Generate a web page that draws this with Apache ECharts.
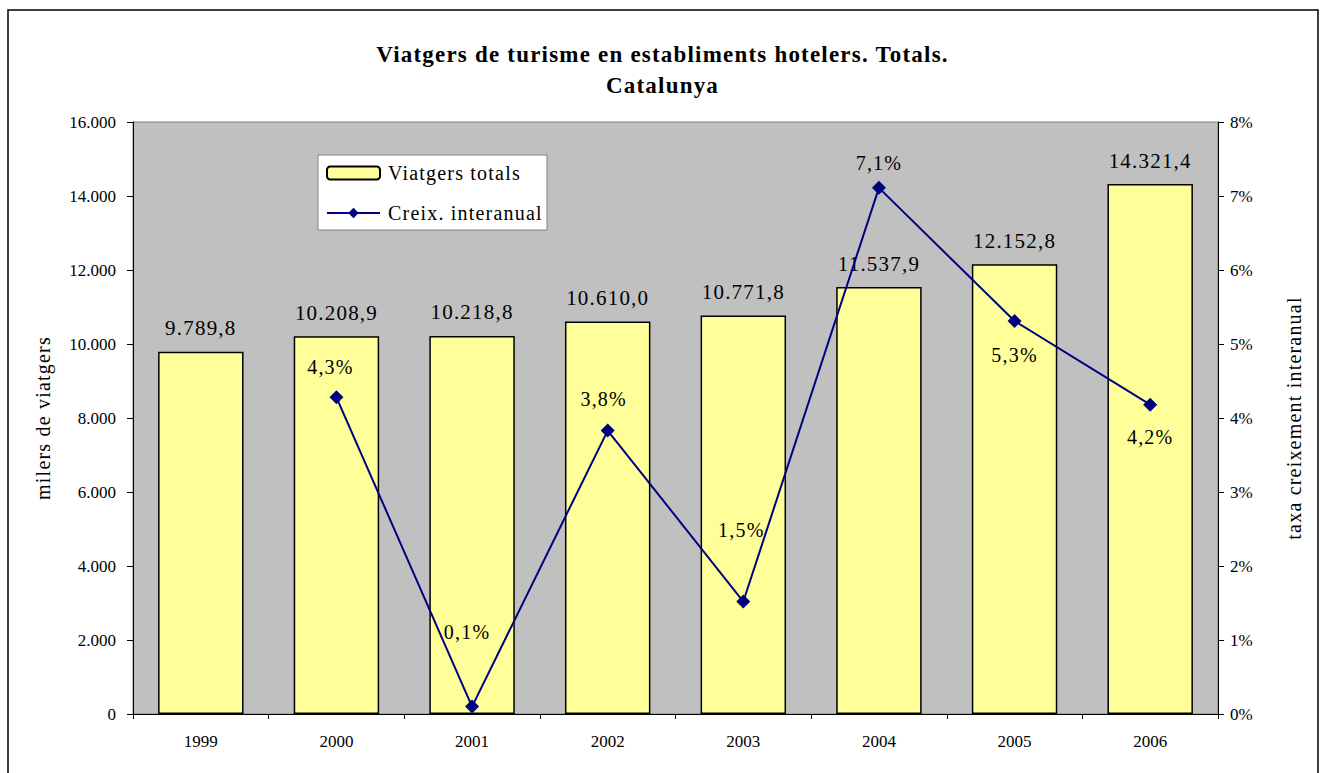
<!DOCTYPE html>
<html>
<head>
<meta charset="utf-8">
<script src="https://cdn.jsdelivr.net/npm/echarts@6/dist/echarts.min.js"></script>
<style>
  html, body { margin: 0; padding: 0; background: #fff; }
  #chart { width: 1325px; height: 773px; }
  /* el text de l'original va espaiat, menys els números dels eixos */
  #chart svg text {
    letter-spacing: 1.2px;
    font-family: "Liberation Serif", "Times New Roman", serif !important;
  }
  #chart svg text[style*="17px"] { letter-spacing: 0; }
</style>
</head>
<body>
<div id="chart"></div>
<script>
// dades llegides del gràfic
var years = ['1999', '2000', '2001', '2002', '2003', '2004', '2005', '2006'];
var viatgers = [9789.8, 10208.9, 10218.8, 10610.0, 10771.8, 11537.9, 12152.8, 14321.4];
var creixement = [null, 4.28, 0.1, 3.83, 1.52, 7.11, 5.31, 4.18];
var leftTicks = [0, 2000, 4000, 6000, 8000, 10000, 12000, 14000, 16000];
var rightTicks = [0, 1, 2, 3, 4, 5, 6, 7, 8];

var FONT = 'Liberation Serif, serif';

// 9789.8 -> "9.789,8"
function fmt(v, dec) {
  var s = v.toFixed(dec);
  var parts = s.split('.');
  var ent = parts[0].replace(/\B(?=(\d{3})+(?!\d))/g, '.');
  return dec > 0 ? ent + ',' + parts[1] : ent;
}

// on va cada etiqueta de la línia (com a l'original)
var lineLabelPlace = [
  null,
  { position: 'top', distance: 13, offset: [-6, 0] },
  { position: 'top', distance: 58, offset: [-5, 0] },
  { position: 'top', distance: 15, offset: [-4, 0] },
  { position: 'top', distance: 55, offset: [-2, 0] },
  { position: 'top', distance: 8, offset: [0, 0] },
  { position: 'bottom', distance: 17, offset: [0, 0] },
  { position: 'bottom', distance: 15, offset: [0, 0] }
];

var lineData = creixement.map(function (v, i) {
  if (v === null) return null;
  var p = lineLabelPlace[i];
  return {
    value: v,
    label: { position: p.position, distance: p.distance, offset: p.offset }
  };
});

var chart = echarts.init(document.getElementById('chart'), null, { renderer: 'svg' });

chart.setOption({
  animation: false,
  textStyle: { fontFamily: FONT },
  graphic: [{
    type: 'rect',
    shape: { x: 8, y: 10, width: 1310, height: 800 },
    style: { fill: 'none', stroke: '#000', lineWidth: 1.5 },
    z: -1
  }, {
    // caixa de la llegenda
    type: 'rect',
    shape: { x: 318, y: 155, width: 229, height: 75 },
    style: { fill: '#fff', stroke: '#808080', lineWidth: 1 },
    z: 3
  }],
  title: {
    text: 'Viatgers de turisme en establiments hotelers. Totals.\nCatalunya',
    left: 'center',
    top: 34,
    textStyle: {
      fontFamily: FONT,
      fontSize: 23,
      fontWeight: 'bold',
      color: '#000',
      lineHeight: 31
    }
  },
  legend: {
    orient: 'vertical',
    left: 326,
    top: 163,
    padding: 0,
    itemGap: 20,
    itemWidth: 53,
    itemHeight: 13,
    selectedMode: false,
    z: 5,
    textStyle: { fontFamily: FONT, fontSize: 20, color: '#000', padding: [0, 0, 0, 3] },
    data: ['Viatgers totals', 'Creix. interanual']
  },
  grid: {
    left: 133,
    right: 107,
    top: 122,
    bottom: 59,
    show: true,
    backgroundColor: '#c0c0c0',
    borderColor: '#808080',
    borderWidth: 1
  },
  xAxis: {
    type: 'category',
    data: years,
    axisLine: { lineStyle: { color: '#000', width: 1 } },
    axisTick: { show: true, length: 5, lineStyle: { color: '#000' } },
    axisLabel: { fontFamily: FONT, fontSize: 17, color: '#000', margin: 19 }
  },
  yAxis: [{
    type: 'value',
    min: leftTicks[0],
    max: leftTicks[leftTicks.length - 1],
    interval: leftTicks[1] - leftTicks[0],
    name: 'milers de viatgers',
    nameLocation: 'middle',
    nameRotate: 90,
    nameGap: 80,
    nameTextStyle: { fontFamily: FONT, fontSize: 20, color: '#000' },
    axisLine: { show: true, lineStyle: { color: '#000' } },
    axisTick: { show: true, length: 6, lineStyle: { color: '#000' } },
    splitLine: { show: false },
    axisLabel: {
      fontFamily: FONT, fontSize: 17, color: '#000', margin: 17,
      formatter: function (v) { return fmt(v, 0); }
    }
  }, {
    type: 'value',
    position: 'right',
    min: rightTicks[0],
    max: rightTicks[rightTicks.length - 1],
    interval: rightTicks[1] - rightTicks[0],
    name: 'taxa creixement interanual',
    nameLocation: 'middle',
    nameRotate: 90,
    nameGap: 66,
    nameTextStyle: { fontFamily: FONT, fontSize: 20, color: '#000' },
    axisLine: { show: true, lineStyle: { color: '#000' } },
    axisTick: { show: true, length: 6, lineStyle: { color: '#000' } },
    splitLine: { show: false },
    axisLabel: {
      fontFamily: FONT, fontSize: 17, color: '#000', margin: 12,
      formatter: function (v) { return v + '%'; }
    }
  }],
  series: [{
    name: 'Viatgers totals',
    type: 'bar',
    yAxisIndex: 0,
    data: viatgers,
    barCategoryGap: '37%',
    itemStyle: { color: '#ffff99', borderColor: '#000', borderWidth: 1.5 },
    label: {
      show: true,
      position: 'top',
      distance: 13,
      fontFamily: FONT,
      fontSize: 21,
      color: '#000',
      formatter: function (p) { return fmt(p.value, 1); }
    }
  }, {
    name: 'Creix. interanual',
    type: 'line',
    yAxisIndex: 1,
    data: lineData,
    symbol: 'diamond',
    symbolSize: 14,
    itemStyle: { color: '#000080' },
    lineStyle: { color: '#000080', width: 2 },
    label: {
      show: true,
      fontFamily: FONT,
      fontSize: 20,
      color: '#000',
      formatter: function (p) { return fmt(p.value, 1) + '%'; }
    }
  }]
});
</script>
</body>
</html>
